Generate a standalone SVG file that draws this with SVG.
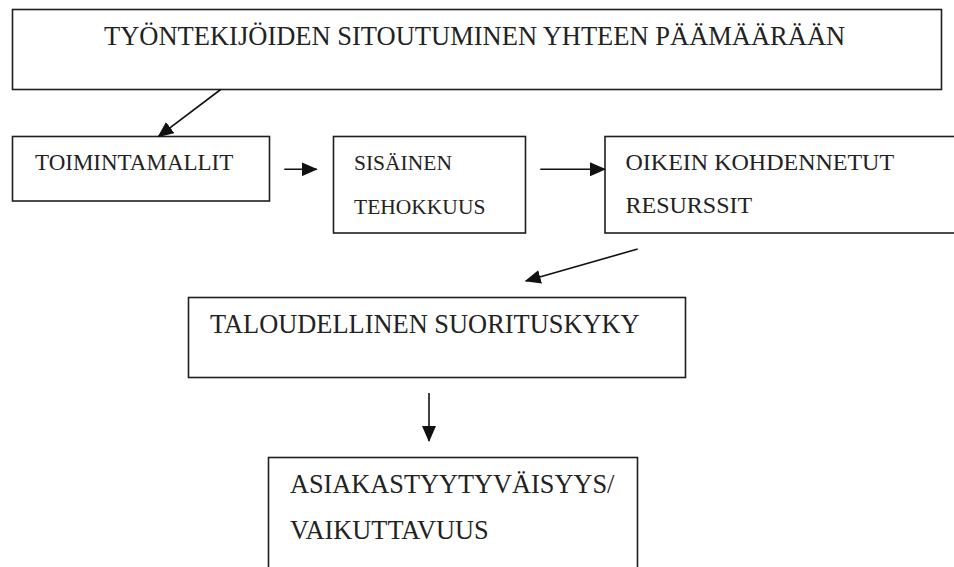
<svg xmlns="http://www.w3.org/2000/svg" width="954" height="567" viewBox="0 0 954 567">
<style>
.box{fill:#fff;stroke:#1e1e1e;stroke-width:1.6}
.t{font-family:"Liberation Serif","Times New Roman",serif;fill:#222}
.c{stroke:#111;stroke-width:1.6;fill:none}
</style>
<defs>
<marker id="ah" markerWidth="16" markerHeight="14" refX="15" refY="7" orient="auto" markerUnits="userSpaceOnUse">
<path d="M0,0 L16,7 L0,14 Z" fill="#111"/>
</marker>
</defs>
<rect width="954" height="567" fill="#fff"/>
<g id="n1">
<rect class="box" x="12.5" y="9.5" width="929" height="80"/>
<text class="t" x="104" y="45" font-size="26.5">TYÖNTEKIJÖIDEN SITOUTUMINEN YHTEEN PÄÄMÄÄRÄÄN</text>
</g>
<g id="n2">
<rect class="box" x="12.5" y="136.5" width="257" height="64.5"/>
<text class="t" x="35" y="170" font-size="23">TOIMINTAMALLIT</text>
</g>
<g id="n3">
<rect class="box" x="333.5" y="136.5" width="192" height="96.5"/>
<text class="t" x="354" y="169.5" font-size="21.5">SISÄINEN</text>
<text class="t" x="354" y="213.5" font-size="21.5">TEHOKKUUS</text>
</g>
<g id="n4">
<rect class="box" x="605" y="136.5" width="360" height="96.5"/>
<text class="t" x="625.5" y="170" font-size="24">OIKEIN KOHDENNETUT</text>
<text class="t" x="625.5" y="212.5" font-size="24">RESURSSIT</text>
</g>
<g id="n5">
<rect class="box" x="188.5" y="297.5" width="497" height="80"/>
<text class="t" x="210" y="333" font-size="26.4">TALOUDELLINEN SUORITUSKYKY</text>
</g>
<g id="n6">
<rect class="box" x="268.5" y="457.5" width="369" height="120"/>
<text class="t" x="290" y="493" font-size="26.3">ASIAKASTYYTYVÄISYYS/</text>
<text class="t" x="290" y="539" font-size="26.3">VAIKUTTAVUUS</text>
</g>
<g id="connectors">
<line class="c" x1="220.7" y1="89.5" x2="158.3" y2="136.7" marker-end="url(#ah)"/>
<line class="c" x1="284.3" y1="169.3" x2="316.7" y2="169.3" marker-end="url(#ah)"/>
<line class="c" x1="540.3" y1="169.3" x2="605" y2="169.3" marker-end="url(#ah)"/>
<line class="c" x1="637.7" y1="249" x2="525.7" y2="281" marker-end="url(#ah)"/>
<line class="c" x1="429" y1="393" x2="429" y2="441" marker-end="url(#ah)"/>
</g>
</svg>
